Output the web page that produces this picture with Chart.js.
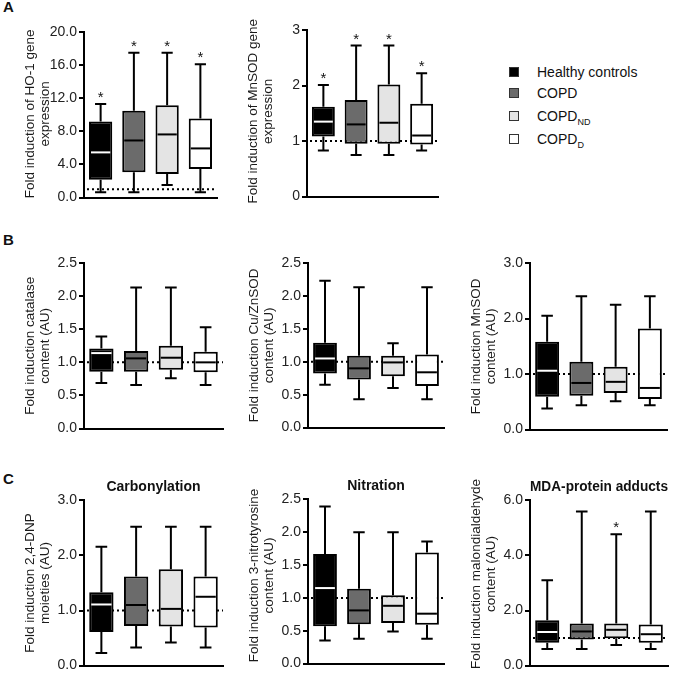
<!DOCTYPE html>
<html>
<head>
<meta charset="utf-8">
<script src="https://cdn.jsdelivr.net/npm/chart.js@4.4.1/dist/chart.umd.min.js"></script>
<style>
  body { margin: 0; background: #fff; width: 682px; height: 678px; position: relative; overflow: hidden;
         font-family: Arial, "Liberation Sans", sans-serif; color: #111; }
  .panel { position: absolute; }
  .letter { position: absolute; left: 3px; font-weight: bold; font-size: 15px; line-height: 15px; }
  .leg { position: absolute; left: 509px; font-size: 14px; line-height: 14px; height: 14px; }
  .leg i { position: absolute; left: 0; top: 2px; width: 8px; height: 8px; border: 1.5px solid #333; }
  .leg span { position: absolute; left: 28px; top: 0; white-space: nowrap; }
  .leg sub { font-size: 9px; vertical-align: -4px; line-height: 0; }
</style>
</head>
<body>
<div class="letter" style="top:-1px">A</div>
<div class="letter" style="top:232px">B</div>
<div class="letter" style="top:471px">C</div>

<div class="leg" style="top:65px"><i style="background:#000"></i><span>Healthy controls</span></div>
<div class="leg" style="top:86px"><i style="background:#6b6b6b"></i><span>COPD</span></div>
<div class="leg" style="top:109px"><i style="background:#e4e4e4"></i><span>COPD<sub>ND</sub></span></div>
<div class="leg" style="top:132px"><i style="background:#fff"></i><span>COPD<sub>D</sub></span></div>

<script>
const FONT = 'Arial, "Liberation Sans", sans-serif';

const groups = ['Healthy controls', 'COPD', 'COPD ND', 'COPD D'];
const fills = ['#000000', '#6b6b6b', '#e4e4e4', '#ffffff'];

// [min, q1, median, q3, max] for each group
const ho1Gene = [[0.64, 2.17, 5.46, 9.2, 11.3], [0.64, 3.05, 6.9, 10.48, 17.5], [1.53, 2.85, 7.63, 11.16, 17.5], [0.64, 3.45, 5.94, 9.56, 16.1]];
const mnsodGene = [[0.83, 1.08, 1.35, 1.62, 2.01], [0.75, 0.95, 1.30, 1.74, 2.72], [0.75, 0.95, 1.33, 2.02, 2.72], [0.83, 0.94, 1.10, 1.67, 2.22]];
const catalase = [[0.69, 0.86, 1.14, 1.21, 1.39], [0.66, 0.86, 1.06, 1.17, 2.13], [0.76, 0.89, 1.07, 1.25, 2.13], [0.66, 0.85, 1.0, 1.16, 1.53]];
const cuznsod = [[0.65, 0.82, 1.05, 1.29, 2.23], [0.43, 0.73, 0.90, 1.09, 2.13], [0.60, 0.78, 0.99, 1.09, 1.28], [0.43, 0.63, 0.84, 1.11, 2.13]];
const mnsodContent = [[0.38, 0.59, 1.06, 1.58, 2.05], [0.44, 0.61, 0.84, 1.22, 2.40], [0.51, 0.66, 0.86, 1.13, 2.25], [0.44, 0.55, 0.75, 1.82, 2.40]];
const carbonyl = [[0.23, 0.61, 1.11, 1.33, 2.16], [0.33, 0.72, 1.10, 1.62, 2.52], [0.42, 0.71, 1.03, 1.75, 2.52], [0.33, 0.69, 1.25, 1.62, 2.52]];
const nitration = [[0.35, 0.57, 1.15, 1.67, 2.39], [0.38, 0.60, 0.81, 1.14, 2.0], [0.49, 0.62, 0.88, 1.04, 2.0], [0.38, 0.59, 0.76, 1.69, 1.86]];
const mdaAdducts = [[0.60, 0.83, 1.22, 1.65, 3.10], [0.60, 0.95, 1.24, 1.53, 5.6], [0.75, 0.99, 1.30, 1.53, 4.77], [0.60, 0.83, 1.14, 1.49, 5.6]];

const ho1Stars = [1, 1, 1, 1];
const mnsodStars = [1, 1, 1, 1];
const noStars = [0, 0, 0, 0];
const mdaStars = [0, 0, 1, 0];

// whiskers, medians, reference line, stars and axis titles
function boxPlugin(p) {
  return {
    id: 'boxStats',
    beforeDatasetsDraw(chart) {
      const {ctx, chartArea: a, scales: {y}} = chart;
      const y1 = y.getPixelForValue(1);
      ctx.save();
      ctx.strokeStyle = '#000';
      ctx.lineWidth = 2;
      ctx.setLineDash([2, 3]);
      ctx.beginPath();
      ctx.moveTo(a.left + 3, y1);
      ctx.lineTo(a.right, y1);
      ctx.stroke();
      ctx.setLineDash([]);
      chart.getDatasetMeta(0).data.forEach((el, i) => {
        const s = p.data[i];
        const cw = el.width * 0.48;
        const yMin = y.getPixelForValue(s[0]), yMax = y.getPixelForValue(s[4]);
        ctx.beginPath();
        ctx.moveTo(el.x, yMax); ctx.lineTo(el.x, y.getPixelForValue(s[3]));
        ctx.moveTo(el.x, yMin); ctx.lineTo(el.x, y.getPixelForValue(s[1]));
        ctx.moveTo(el.x - cw / 2, yMax); ctx.lineTo(el.x + cw / 2, yMax);
        ctx.moveTo(el.x - cw / 2, yMin); ctx.lineTo(el.x + cw / 2, yMin);
        ctx.stroke();
      });
      ctx.restore();
    },
    afterDatasetsDraw(chart) {
      const {ctx, scales: {y}} = chart;
      ctx.save();
      ctx.lineWidth = 2;
      chart.getDatasetMeta(0).data.forEach((el, i) => {
        const s = p.data[i];
        const ym = y.getPixelForValue(s[2]);
        ctx.strokeStyle = i === 0 ? '#fff' : '#000';
        ctx.beginPath();
        ctx.moveTo(el.x - el.width / 2 + 2, ym);
        ctx.lineTo(el.x + el.width / 2 - 2, ym);
        ctx.stroke();
        if (p.stars[i]) {
          ctx.fillStyle = '#111';
          ctx.font = '15px ' + FONT;
          ctx.textAlign = 'center';
          ctx.textBaseline = 'alphabetic';
          ctx.fillText('*', el.x, y.getPixelForValue(s[4]) - 2);
        }
      });
      ctx.restore();
    },
    afterDraw(chart) {
      const {ctx, chartArea: a} = chart;
      ctx.save();
      ctx.fillStyle = '#1a1a1a';
      ctx.font = '13.5px ' + FONT;
      ctx.textAlign = 'center';
      ctx.textBaseline = 'middle';
      ctx.translate(a.left - 54, (a.top + a.bottom) / 2 + (p.shift || 0));
      ctx.rotate(-Math.PI / 2);
      p.yTitle.forEach((line, k) => ctx.fillText(line, 0, k * 15.5));
      ctx.restore();
    }
  };
}

function makePanel(p) {
  const padTop = 14, padBottom = 10, padRight = 12, axisW = 80;
  const titleH = p.title ? 21.4 : 0;
  const left = p.l - axisW, top = p.t - padTop - titleH;
  const w = Math.round(p.r + padRight - left), h = Math.round(p.b + padBottom - top);
  const div = document.createElement('div');
  div.className = 'panel';
  div.style.left = left + 'px';
  div.style.top = top + 'px';
  const canvas = document.createElement('canvas');
  canvas.width = w;
  canvas.height = h;
  div.appendChild(canvas);
  document.body.appendChild(div);

  new Chart(canvas, {
    type: 'bar',
    data: {
      labels: groups,
      datasets: [{
        data: p.data.map(s => [s[1], s[3]]),
        backgroundColor: fills,
        borderColor: '#000',
        borderWidth: 2,
        borderSkipped: false,
        barPercentage: 0.7,
        categoryPercentage: 1
      }]
    },
    options: {
      responsive: false,
      animation: false,
      events: [],
      layout: { padding: { left: 0, top: padTop, right: padRight, bottom: padBottom } },
      plugins: {
        legend: { display: false },
        tooltip: { enabled: false },
        title: {
          display: !!p.title, text: p.title || '', fullSize: false, color: '#111',
          font: { family: FONT, size: 14, weight: 'bold' }, padding: { top: 0, bottom: 4.6 }
        }
      },
      scales: {
        x: {
          ticks: { display: false },
          grid: { display: false },
          border: { display: true, color: '#000', width: 2 },
          afterFit: s => { s.height = 0; }
        },
        y: {
          min: p.min, max: p.max,
          ticks: { stepSize: p.step, color: '#222', padding: 2, font: { family: FONT, size: 14 },
                   callback: v => v.toFixed(p.dec) },
          grid: { drawOnChartArea: false, drawTicks: true, tickLength: 5, color: '#000', lineWidth: 2 },
          border: { display: true, color: '#000', width: 2 },
          afterFit: s => { s.width = axisW; }
        }
      }
    },
    plugins: [boxPlugin(p)]
  });
}

makePanel({ data: ho1Gene, stars: ho1Stars, min: 0, max: 20, step: 4, dec: 1,
  yTitle: ['Fold induction of HO-1 gene', 'expression'], l: 84, r: 217, t: 32, b: 198, shift: -1 });
makePanel({ data: mnsodGene, stars: mnsodStars, min: 0, max: 3, step: 1, dec: 0,
  yTitle: ['Fold induction of MnSOD gene', 'expression'], l: 307, r: 438, t: 30, b: 197, shift: -2 });
makePanel({ data: catalase, stars: noStars, min: 0, max: 2.5, step: 0.5, dec: 1,
  yTitle: ['Fold induction catalase', 'content (AU)'], l: 84, r: 223, t: 263, b: 429 });
makePanel({ data: cuznsod, stars: noStars, min: 0, max: 2.5, step: 0.5, dec: 1,
  yTitle: ['Fold induction Cu/ZnSOD', 'content (AU)'], l: 308, r: 444, t: 263, b: 428 });
makePanel({ data: mnsodContent, stars: noStars, min: 0, max: 3, step: 1, dec: 1,
  yTitle: ['Fold induction MnSOD', 'content (AU)'], l: 530, r: 667, t: 263, b: 430 });
makePanel({ data: carbonyl, stars: noStars, min: 0, max: 3, step: 1, dec: 1, title: 'Carbonylation',
  yTitle: ['Fold induction 2,4-DNP', 'moieties (AU)'], l: 84, r: 223, t: 500, b: 666 });
makePanel({ data: nitration, stars: noStars, min: 0, max: 2.5, step: 0.5, dec: 1, title: 'Nitration',
  yTitle: ['Fold induction 3-nitrotyrosine', 'content (AU)'], l: 308, r: 444, t: 499, b: 664, shift: -6 });
makePanel({ data: mdaAdducts, stars: mdaStars, min: 0, max: 6, step: 2, dec: 1, title: 'MDA-protein adducts',
  yTitle: ['Fold induction malondialdehyde', 'content (AU)'], l: 530, r: 668, t: 500, b: 666, shift: -9 });
</script>
</body>
</html>
